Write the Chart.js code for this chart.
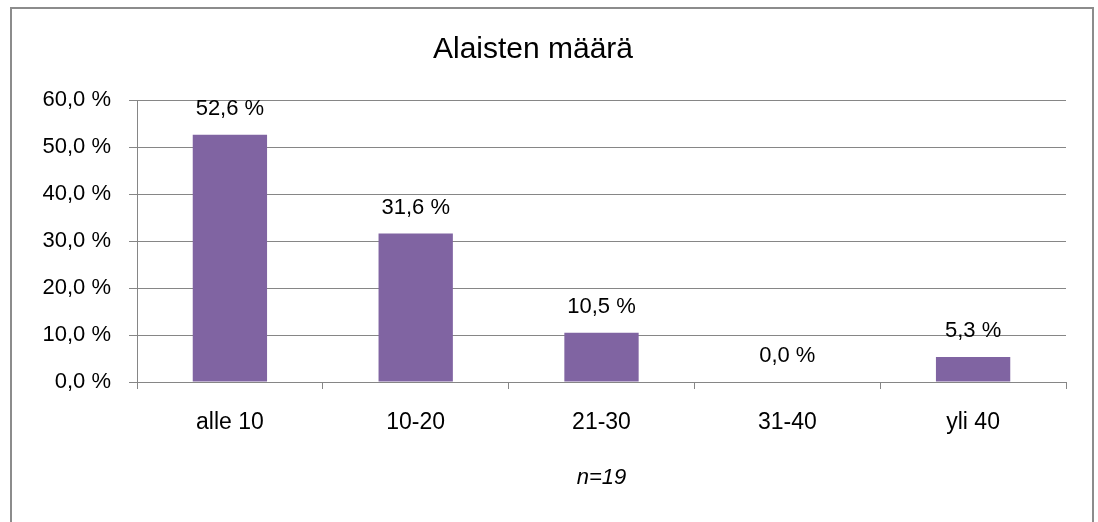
<!DOCTYPE html>
<html>
<head>
<meta charset="utf-8">
<script src="https://cdn.jsdelivr.net/npm/chart.js@4/dist/chart.umd.min.js"></script>
<style>
  html, body { margin: 0; padding: 0; background: #fff; }
  #wrap { width: 1098px; height: 522px; position: relative; }
</style>
</head>
<body>
<div id="wrap"><canvas id="chart"></canvas></div>
<script>
// Data
const categories = ['alle 10', '10-20', '21-30', '31-40', 'yli 40'];
const shares = [52.6, 31.6, 10.5, 0.0, 5.3];
const yTicks = [0, 10, 20, 30, 40, 50, 60];

const FONT = "'Liberation Sans', Arial, sans-serif";
const GRID = '#868686';

function pct(v) {
  return v.toFixed(1).replace('.', ',') + ' %';
}

// Outer frame of the chart object
const framePlugin = {
  id: 'frame',
  beforeDraw(chart) {
    const ctx = chart.ctx;
    ctx.save();
    ctx.fillStyle = '#fff';
    ctx.fillRect(0, 0, chart.width, chart.height);
    ctx.strokeStyle = '#8c8c8c';
    ctx.lineWidth = 2;
    ctx.strokeRect(11, 8, 1082, 540);
    ctx.restore();
  }
};

// Value labels above the bars
const valueLabels = {
  id: 'valueLabels',
  afterDatasetsDraw(chart) {
    const ctx = chart.ctx;
    const meta = chart.getDatasetMeta(0);
    ctx.save();
    ctx.font = '22px ' + FONT;
    ctx.fillStyle = '#000';
    ctx.textAlign = 'center';
    ctx.textBaseline = 'middle';
    meta.data.forEach((bar, i) => {
      ctx.fillText(pct(shares[i]), bar.x, bar.y - 26);
    });
    ctx.restore();
  }
};

new Chart(document.getElementById('chart'), {
  type: 'bar',
  data: {
    labels: categories,
    datasets: [{
      data: shares,
      backgroundColor: '#8064a2',
      borderWidth: 0,
      categoryPercentage: 1.0,
      barPercentage: 0.4
    }]
  },
  options: {
    responsive: true,
    maintainAspectRatio: false,
    animation: false,
    layout: { padding: { left: 0, right: 32, top: 0, bottom: 0 } },
    plugins: {
      legend: { display: false },
      tooltip: { enabled: false },
      title: {
        display: true,
        text: 'Alaisten määrä',
        color: '#000',
        font: { family: FONT, size: 30, weight: 'normal' },
        padding: { top: 32, bottom: 32 }
      }
    },
    scales: {
      x: {
        grid: {
          drawOnChartArea: false,
          drawTicks: true,
          tickLength: 7,
          color: GRID,
          offset: true
        },
        border: { display: true, color: GRID, width: 1 },
        ticks: {
          color: '#000',
          font: { family: FONT, size: 23 },
          padding: 20,
          maxRotation: 0
        },
        title: {
          display: true,
          text: 'n=19',
          color: '#000',
          font: { family: FONT, size: 22, style: 'italic' },
          padding: { top: 0, bottom: 31 }
        },
        afterFit(scale) { scale.height = 140; }
      },
      y: {
        min: 0,
        max: 60,
        afterBuildTicks(scale) {
          scale.ticks = yTicks.map(v => ({ value: v }));
        },
        grid: {
          color: GRID,
          tickLength: 8,
          lineWidth: 1
        },
        border: { display: true, color: GRID, width: 1 },
        ticks: {
          color: '#000',
          font: { family: FONT, size: 22 },
          padding: 18,
          callback: v => pct(v)
        },
        afterFit(scale) { scale.width = 137; }
      }
    }
  },
  plugins: [framePlugin, valueLabels]
});
</script>
</body>
</html>
